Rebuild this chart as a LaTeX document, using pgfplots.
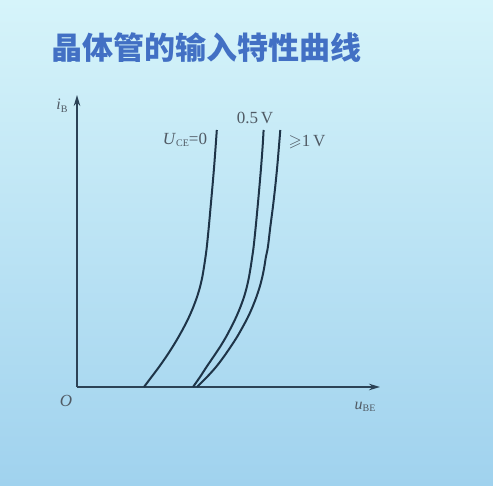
\documentclass[border=0pt]{standalone}
\usepackage{pgfplots}
\pgfplotsset{compat=1.18}
\usepackage{amssymb}
\usepackage{fontspec}
\setmainfont{Liberation Serif}
\newfontfamily\cjk{Noto Sans CJK SC}
\usetikzlibrary{arrows.meta}
\definecolor{titleblue}{RGB}{66,112,196}
\definecolor{curve}{RGB}{30,52,72}
\definecolor{axcol}{RGB}{44,66,86}
\definecolor{lab}{RGB}{80,90,100}
\definecolor{bgtop}{RGB}{214,244,250}
\definecolor{bgbot}{RGB}{160,210,238}
\newcommand{\sub}[1]{\raisebox{-0.35ex}{\fontsize{10}{10}\selectfont #1}}
\begin{document}
\begin{tikzpicture}
\shade[top color=bgtop, bottom color=bgbot] (0,0) rectangle (493pt,486pt);
\node[anchor=west, text=titleblue, font=\cjk\bfseries\fontsize{31}{31}\selectfont, inner sep=0pt] at (51pt,438pt) {晶体管的输入特性曲线};
\begin{axis}[
  at={(77pt,99pt)}, anchor=south west,
  scale only axis, width=303pt, height=292pt,
  xmin=0, xmax=303, ymin=0, ymax=292,
  axis lines=left, ticks=none, clip=false,
  axis line style={axcol, line width=1.8pt, -{Stealth[length=11pt,width=6.5pt]}},
]
\addplot[curve, line width=2pt, smooth] coordinates {
(67,0) (74.5,10) (82,20) (89,30) (95.5,40) (101.5,50) (107,60) (112,70) (116.3,80) (120,90) (123,100) (125.3,110) (127,120) (128.5,130) (129.8,140) (131.8,160) (133.6,180) (135.4,200) (137.1,220) (138.6,240) (139.8,257)};
\addplot[curve, line width=2pt, smooth] coordinates {
(116,0) (123,10) (129.5,20) (136.3,30) (143,40) (149,50) (154.3,60) (159.2,70) (163.4,80) (167,90) (169.8,100) (172,110) (173.7,120) (175.2,130) (176.6,140) (178.7,160) (180.6,180) (182.4,200) (184.1,220) (185.6,240) (186.6,257)};
\addplot[curve, line width=2pt, smooth] coordinates {
(120,0) (130,10) (139,20) (146.6,30) (153.5,40) (160,50) (165.7,60) (171,70) (175.5,80) (179.4,90) (182.7,100) (185.3,110) (187.3,120) (188.9,130) (190.9,140) (193.3,160) (195.9,180) (198.2,200) (200.2,220) (201.9,240) (203.3,257)};
\node[text=lab, font=\fontsize{16}{16}\selectfont] at (axis cs:-15,281) {\textit{i}\sub{B}};
\node[text=lab, font=\fontsize{17}{17}\selectfont] at (axis cs:-11,-14) {\textit{O}};
\node[text=lab, font=\fontsize{16}{16}\selectfont] at (axis cs:288,-20) {\textit{u}\sub{BE}};
\node[text=lab, font=\fontsize{17}{17}\selectfont] at (axis cs:108,247) {\textit{U}\sub{CE}=0};
\node[text=lab, font=\fontsize{17}{17}\selectfont] at (axis cs:178,269) {0.5\,V};
\node[text=lab, font=\fontsize{17}{17}\selectfont] at (axis cs:230,245) {$\geqslant$1\,V};
\end{axis}
\end{tikzpicture}
\end{document}
